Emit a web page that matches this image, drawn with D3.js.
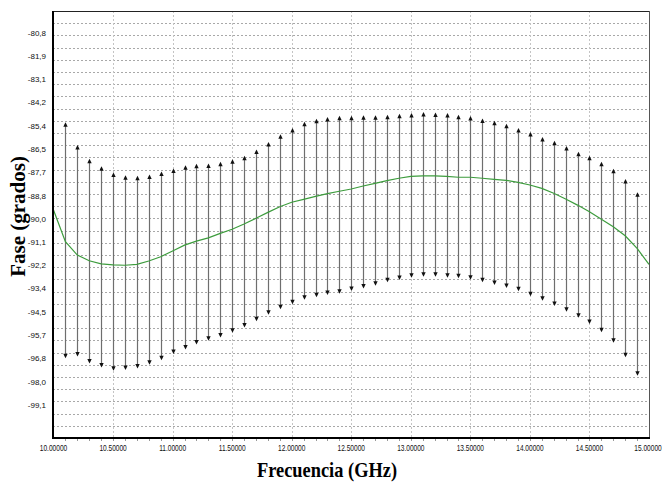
<!DOCTYPE html>
<html>
<head>
<meta charset="utf-8">
<script src="https://cdn.jsdelivr.net/npm/d3@7"></script>
<style>
  html, body { margin: 0; padding: 0; background: #fff; }
  svg { display: block; }
</style>
</head>
<body>
<svg id="chart" width="664" height="483"></svg>
<script>
// Frequency points of the measured phase ranges (GHz)
const barFreq = [10.1, 10.2, 10.3, 10.4, 10.5, 10.6, 10.7, 10.8, 10.9, 11.0,
  11.1, 11.2, 11.3, 11.4, 11.5, 11.6, 11.7, 11.8, 11.9, 12.0,
  12.1, 12.2, 12.3, 12.4, 12.5, 12.6, 12.7, 12.8, 12.9, 13.0,
  13.1, 13.2, 13.3, 13.4, 13.5, 13.6, 13.7, 13.8, 13.9, 14.0,
  14.1, 14.2, 14.3, 14.4, 14.5, 14.6, 14.7, 14.8, 14.9];

// Upper limit of the phase at each frequency (degrees)
const phaseMax = [-85.20, -86.31, -86.99, -87.36, -87.67, -87.80, -87.83, -87.76, -87.62, -87.47,
  -87.31, -87.24, -87.22, -87.14, -87.02, -86.84, -86.53, -86.17, -85.79, -85.48,
  -85.17, -85.02, -84.94, -84.87, -84.88, -84.85, -84.85, -84.82, -84.77, -84.74,
  -84.69, -84.71, -84.74, -84.82, -84.89, -85.01, -85.12, -85.27, -85.48, -85.67,
  -85.92, -86.10, -86.36, -86.64, -86.84, -87.14, -87.48, -87.99, -88.64];

// Lower limit of the phase at each frequency (degrees)
const phaseMin = [-96.80, -96.72, -97.07, -97.26, -97.42, -97.39, -97.31, -97.13, -96.90, -96.60,
  -96.38, -96.13, -95.95, -95.78, -95.55, -95.29, -94.98, -94.67, -94.40, -94.15,
  -93.93, -93.81, -93.70, -93.63, -93.50, -93.37, -93.24, -93.07, -92.96, -92.85,
  -92.80, -92.80, -92.85, -92.87, -92.94, -93.07, -93.20, -93.35, -93.51, -93.75,
  -93.98, -94.24, -94.52, -94.81, -95.12, -95.53, -96.04, -96.76, -97.67];

// Nominal phase curve
const curveFreq = [10.0, 10.1, 10.2, 10.3, 10.4, 10.5, 10.6, 10.7, 10.8, 10.9,
  11.0, 11.1, 11.2, 11.3, 11.4, 11.5, 11.6, 11.7, 11.8, 11.9,
  12.0, 12.1, 12.2, 12.3, 12.4, 12.5, 12.6, 12.7, 12.8, 12.9,
  13.0, 13.1, 13.2, 13.3, 13.4, 13.5, 13.6, 13.7, 13.8, 13.9,
  14.0, 14.1, 14.2, 14.3, 14.4, 14.5, 14.6, 14.7, 14.8, 14.9, 15.0];
const curvePhase = [-89.51, -91.07, -91.73, -92.01, -92.16, -92.21, -92.23, -92.19, -92.02, -91.81,
  -91.53, -91.24, -91.04, -90.88, -90.66, -90.46, -90.20, -89.92, -89.63, -89.35,
  -89.13, -88.99, -88.84, -88.71, -88.59, -88.48, -88.33, -88.20, -88.07, -87.95,
  -87.86, -87.83, -87.83, -87.86, -87.90, -87.90, -87.95, -88.00, -88.05, -88.15,
  -88.28, -88.45, -88.69, -88.97, -89.27, -89.60, -89.97, -90.34, -90.78, -91.40, -92.19];

// Axis ticks
const xTicks = [10.0, 10.5, 11.0, 11.5, 12.0, 12.5, 13.0, 13.5, 14.0, 14.5, 15.0];
const xTickLabels = ["10.00000", "10.50000", "11.00000", "11.50000", "12.00000", "12.50000",
  "13.00000", "13.50000", "14.00000", "14.50000", "15.00000"];
const yTicks = [-80.80, -81.94, -83.09, -84.23, -85.38, -86.52, -87.66, -88.81, -89.96,
  -91.10, -92.24, -93.38, -94.53, -95.67, -96.82, -97.96, -99.10];
const yTickLabels = ["-80,8", "-81,9", "-83,1", "-84,2", "-85,4", "-86,5", "-87,7", "-88,8", "-90,0",
  "-91,1", "-92,2", "-93,4", "-94,5", "-95,7", "-96,8", "-98,0", "-99,1"];

(function () {
const svg = d3.select("#chart");
const pL = 53, pR = 649, pT = 11, pB = 438;

const x = d3.scaleLinear().domain([10, 15]).range([53.5, 649]);
const y = d3.scaleLinear().domain([-100.73, -79.72]).range([pB, pT]);

// Horizontal grid: the plot height divided into 35 equal bands
const yDom = y.domain();
const hGrid = d3.range(1, 35).map(k => yDom[0] + k * (yDom[1] - yDom[0]) / 35);

svg.append("g").selectAll("line").data(hGrid).join("line")
  .attr("x1", pL).attr("x2", pR)
  .attr("y1", d => Math.round(y(d)) + 0.5).attr("y2", d => Math.round(y(d)) + 0.5)
  .attr("stroke", "#a8a8a8").attr("stroke-width", 1).attr("stroke-dasharray", "2,2");

// Vertical grid at the labelled frequencies
svg.append("g").selectAll("line").data(xTicks.slice(1, -1)).join("line")
  .attr("x1", d => Math.round(x(d)) + 0.5).attr("x2", d => Math.round(x(d)) + 0.5)
  .attr("y1", pT).attr("y2", pB + 4)
  .attr("stroke", "#c4c4c4").attr("stroke-width", 1).attr("stroke-dasharray", "2,2");

// Minor ticks along the frequency axis
svg.append("g").selectAll("line").data(barFreq).join("line")
  .attr("x1", d => Math.round(x(d)) + 0.5).attr("x2", d => Math.round(x(d)) + 0.5)
  .attr("y1", pB).attr("y2", pB + 3)
  .attr("stroke", "#999").attr("stroke-width", 1);

// Error bars with arrowheads at both ends
const bars = barFreq.map((f, i) => ({ f, hi: phaseMax[i], lo: phaseMin[i] }));
const gBars = svg.append("g");
gBars.selectAll("line").data(bars).join("line")
  .attr("x1", d => Math.round(x(d.f)) + 0.5).attr("x2", d => Math.round(x(d.f)) + 0.5)
  .attr("y1", d => y(d.hi) + 2).attr("y2", d => y(d.lo) - 2)
  .attr("stroke", "#6e6e6e").attr("stroke-width", 1.2);
gBars.selectAll("path.up").data(bars).join("path").attr("class", "up")
  .attr("d", d => {
    const cx = Math.round(x(d.f)) + 0.5, ty = y(d.hi);
    return `M${cx},${ty} L${cx - 2.2},${ty + 4.5} L${cx + 2.2},${ty + 4.5} Z`;
  })
  .attr("fill", "#111");
gBars.selectAll("path.down").data(bars).join("path").attr("class", "down")
  .attr("d", d => {
    const cx = Math.round(x(d.f)) + 0.5, by = y(d.lo);
    return `M${cx},${by} L${cx - 2.2},${by - 4.5} L${cx + 2.2},${by - 4.5} Z`;
  })
  .attr("fill", "#111");

// Nominal phase curve
const curve = curveFreq.map((f, i) => ({ f, v: curvePhase[i] }));
svg.append("path")
  .datum(curve)
  .attr("d", d3.line().x(d => x(d.f)).y(d => y(d.v)))
  .attr("fill", "none")
  .attr("stroke", "#3d9c3d")
  .attr("stroke-width", 1.2);

// Plot frame
svg.append("line").attr("x1", pL).attr("x2", pR).attr("y1", pT + 0.5).attr("y2", pT + 0.5)
  .attr("stroke", "#222").attr("stroke-width", 1);
svg.append("line").attr("x1", pR + 0.5).attr("x2", pR + 0.5).attr("y1", pT).attr("y2", pB)
  .attr("stroke", "#555").attr("stroke-width", 1);
svg.append("line").attr("x1", pL).attr("x2", pL).attr("y1", pT).attr("y2", pB + 1)
  .attr("stroke", "#000").attr("stroke-width", 2);
svg.append("line").attr("x1", pL - 1).attr("x2", pR + 1).attr("y1", pB).attr("y2", pB)
  .attr("stroke", "#000").attr("stroke-width", 2);

// Tick labels
svg.append("g").selectAll("text").data(yTicks).join("text")
  .attr("x", 46).attr("y", d => y(d)).attr("dy", "0.35em")
  .attr("text-anchor", "end")
  .attr("font-family", "'Liberation Sans', Arial, sans-serif")
  .attr("font-size", 8).attr("fill", "#111")
  .text((d, i) => yTickLabels[i]);

// Frequency labels use a narrow, horizontally condensed face
svg.append("g").selectAll("text").data(xTicks).join("text")
  .attr("transform", d => `translate(${Math.min(x(d), 648)},451) scale(0.73,1)`)
  .attr("text-anchor", "middle")
  .attr("font-family", "'Liberation Sans', Arial, sans-serif")
  .attr("font-size", 9).attr("fill", "#111")
  .text((d, i) => xTickLabels[i]);

// Axis titles
svg.append("text")
  .attr("x", 327).attr("y", 477)
  .attr("text-anchor", "middle")
  .attr("font-family", "'Liberation Serif', 'Times New Roman', serif")
  .attr("font-weight", "bold").attr("font-size", 22).attr("fill", "#000")
  .attr("textLength", 140).attr("lengthAdjust", "spacingAndGlyphs")
  .text("Frecuencia (GHz)");

svg.append("text")
  .attr("transform", "translate(25,216.5) rotate(-90)")
  .attr("text-anchor", "middle")
  .attr("font-family", "'Liberation Serif', 'Times New Roman', serif")
  .attr("font-weight", "bold").attr("font-size", 21).attr("fill", "#000")
  .text("Fase (grados)");
})();
</script>
</body>
</html>
